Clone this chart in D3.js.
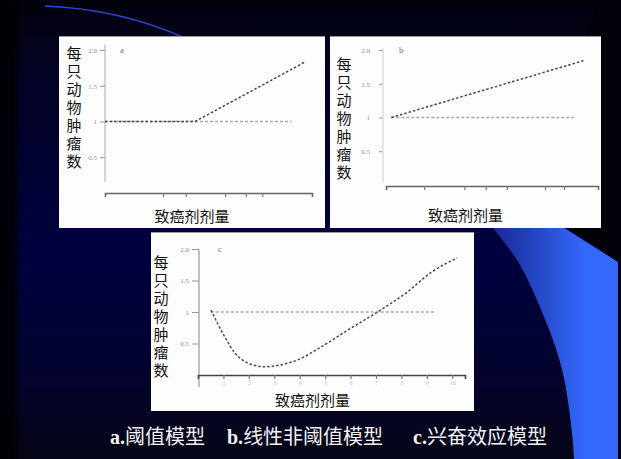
<!DOCTYPE html>
<meta charset="utf-8">
<html>
<head>
<style>
  body { margin: 0; background: #000; }
  svg { display: block; }
</style>
</head>
<body>
<script src="https://d3js.org/d3.v7.min.js"></script>
<div id="slide"></div>
<script>
// tick values / labels shared by the three small charts
var yTickValues = [0.5, 1, 1.5, 2];
var yTickLabels = ["0.5", "1", "1.5", "2.0"];
var yLabelText = "每只动物肿瘤数";
var xLabelText = "致癌剂剂量";
var panelLetters = ["a", "b", "c"];
var captionLetters = ["a.", "b.", "c."];
var captionNames = ["阈值模型", "线性非阈值模型", "兴奋效应模型"];

// a. threshold model
var controlAX = [0, 9.0];
var thresholdX = [0, 4.35, 9.65];
var thresholdY = [1, 1, 1.83];
var xTicksA = [2.8, 3.9, 5.8, 6.8, 7.6];

// b. linear no-threshold model
var controlBX = [0.25, 8.9];
var linearX = [0.25, 9.4];
var linearY = [1, 1.85];
var xTicksB = [1.8, 3.7, 4.7, 5.7, 7.5, 8.4];

// c. hormesis model
var controlCX = [0.5, 9.35];
var hormesisX = [0.51, 1.06, 1.45, 1.96, 2.63, 3.25, 3.92, 4.82, 5.88, 7.06, 8.24, 9.14, 10.2];
var hormesisY = [1.03, 0.60, 0.35, 0.19, 0.13, 0.16, 0.24, 0.44, 0.71, 1.0, 1.32, 1.62, 1.86];
var xTicksC = [1, 2, 3, 4, 5, 6, 7, 8, 9, 10];
var xTickLabelsC = ["1", "2", "3", "4", "5", "6", "7", "8", "9", "10"];

var W = 621, H = 459;
var svg = d3.select("#slide").append("svg").attr("width", W).attr("height", H);
var defs = svg.append("defs");

// ---- slide background ----
var bgV = defs.append("linearGradient").attr("id", "bgV").attr("x1", 0).attr("y1", 0).attr("x2", 0).attr("y2", 1);
bgV.append("stop").attr("offset", "0%").attr("stop-color", "#02020c");
bgV.append("stop").attr("offset", "12%").attr("stop-color", "#030320");
bgV.append("stop").attr("offset", "55%").attr("stop-color", "#000040");
bgV.append("stop").attr("offset", "85%").attr("stop-color", "#03032a");
bgV.append("stop").attr("offset", "100%").attr("stop-color", "#050515");
svg.append("rect").attr("width", W).attr("height", H).attr("fill", "url(#bgV)");

var bgL = defs.append("linearGradient").attr("id", "bgL").attr("x1", 0).attr("y1", 0).attr("x2", 1).attr("y2", 0);
bgL.append("stop").attr("offset", "0%").attr("stop-color", "#000005").attr("stop-opacity", 1);
bgL.append("stop").attr("offset", "60%").attr("stop-color", "#000005").attr("stop-opacity", 0.9);
bgL.append("stop").attr("offset", "100%").attr("stop-color", "#000005").attr("stop-opacity", 0);
svg.append("rect").attr("width", 22).attr("height", H).attr("fill", "url(#bgL)");

// dark right edge
svg.append("rect").attr("x", 603).attr("width", 18).attr("height", H).attr("fill", "#02020a");
svg.append("path").attr("d", "M520,200 L621,262 L621,0 L600,0 Z").attr("fill", "#02020a");

// blue swoosh on the right
var blueG = defs.append("linearGradient").attr("id", "blueG").attr("gradientUnits", "userSpaceOnUse")
  .attr("x1", 485).attr("y1", 0).attr("x2", 585).attr("y2", 0);
blueG.append("stop").attr("offset", "0%").attr("stop-color", "#16248a");
blueG.append("stop").attr("offset", "100%").attr("stop-color", "#3468fc");
var swooshEdge = [[475, 200], [493, 228], [517, 260], [537, 300], [553, 340], [565, 383], [572, 433], [574, 459]];
var edgePath = d3.line().curve(d3.curveNatural)(swooshEdge);
svg.append("path")
  .attr("d", edgePath + " L618,459 L618,262 L520,200 Z")
  .attr("fill", "url(#blueG)");

// thin blue arc near the top
svg.append("path").attr("d", "M45,6 Q120,9 185,38")
  .attr("fill", "none").attr("stroke", "#2a48e0").attr("stroke-width", 1.3);

// ---- panels ----
var panels = [
  { box: [59, 36, 266, 192], xr: [105, 312], yr: [193, 50], axisX: 105, axisY: [45, 182], xAxisY: 193,
    tickSize: 5, tickPad: 3, letterX: 120, labelX: 74, labelY0: 53, capY: 216,
    xTicks: xTicksA, xTickLabels: null, domX: [0, 10],
    control: controlAX, curveX: thresholdX, curveY: thresholdY, curveType: d3.curveLinear,
    yAxisColor: "#b8b8b8", xAxisColor: "#666" },
  { box: [330, 36, 271, 192], xr: [386, 598], yr: [185, 50], axisX: 383, axisY: [48, 182], xAxisY: 186,
    tickSize: 4, tickPad: 9, letterX: 399, labelX: 344, labelY0: 64, capY: 215,
    xTicks: xTicksB, xTickLabels: null, domX: [0, 10],
    control: controlBX, curveX: linearX, curveY: linearY, curveType: d3.curveLinear,
    yAxisColor: "#d8d8d8", xAxisColor: "#666" },
  { box: [151, 232, 323, 179], xr: [198, 465], yr: [375, 249], axisX: 199, axisY: [250, 387], xAxisY: 375,
    tickSize: 7, tickPad: 3, letterX: 218, labelX: 161, labelY0: 262, capY: 400,
    xTicks: xTicksC, xTickLabels: xTickLabelsC, domX: [0, 10.5],
    control: controlCX, curveX: hormesisX, curveY: hormesisY, curveType: d3.curveMonotoneX,
    yAxisColor: "#999", xAxisColor: "#444" }
];

panels.forEach(function(p, i) {
  var g = svg.append("g");
  g.append("rect").attr("x", p.box[0]).attr("y", p.box[1]).attr("width", p.box[2]).attr("height", p.box[3])
    .attr("fill", "#fdfdfd");
  g.append("line").attr("x1", p.box[0]).attr("x2", p.box[0] + p.box[2]).attr("y1", p.box[1] + 0.5).attr("y2", p.box[1] + 0.5)
    .attr("stroke", "#9a9a9a").attr("stroke-width", 1);

  var x = d3.scaleLinear().domain(p.domX).range(p.xr);
  var y = d3.scaleLinear().domain([0, 2]).range(p.yr);

  // y axis
  var ya = g.append("g").attr("transform", "translate(" + p.axisX + ",0)")
    .call(d3.axisLeft(y).tickValues(yTickValues).tickSize(p.tickSize).tickPadding(p.tickPad)
      .tickFormat(function(d, k) { return yTickLabels[k]; }));
  ya.select(".domain").remove();
  ya.selectAll(".tick line").attr("stroke", "#999");
  ya.selectAll(".tick text").attr("fill", "#909090").style("font-size", "7px").style("font-family", "Liberation Serif, serif");
  g.append("line").attr("x1", p.axisX).attr("x2", p.axisX).attr("y1", p.axisY[0]).attr("y2", p.axisY[1])
    .attr("stroke", p.yAxisColor).attr("stroke-width", 1.2);
  g.append("text").attr("x", p.letterX).attr("y", y(2) + 3).text(panelLetters[i])
    .attr("fill", "#777").style("font-size", "9px").style("font-family", "Liberation Serif, serif");

  // x axis
  var xa = g.append("g").attr("transform", "translate(0," + p.xAxisY + ")")
    .call(d3.axisBottom(x).tickValues(p.xTicks).tickSizeOuter(0).tickSize(4).tickPadding(2)
      .tickFormat(function(d, k) { return p.xTickLabels ? p.xTickLabels[k] : ""; }));
  xa.select(".domain").attr("stroke", p.xAxisColor).attr("stroke-width", 1.6);
  xa.selectAll(".tick line").attr("stroke", "#777").attr("stroke-width", 1.2);
  xa.selectAll(".tick text").attr("fill", "#c4c4c4").style("font-size", "6px").style("font-family", "Liberation Serif, serif");

  // control level (dashed)
  g.append("path")
    .attr("d", d3.line()([[x(p.control[0]), y(1)], [x(p.control[1]), y(1)]]))
    .attr("fill", "none").attr("stroke", "#a8a8a8").attr("stroke-width", 1.4).attr("stroke-dasharray", "3,2");

  // dose-response curve
  var pts = p.curveX.map(function(v, k) { return [v, p.curveY[k]]; });
  g.append("path").datum(pts)
    .attr("d", d3.line().curve(p.curveType).x(function(d) { return x(d[0]); }).y(function(d) { return y(d[1]); }))
    .attr("fill", "none").attr("stroke", "#4a4a4a").attr("stroke-width", 1.5).attr("stroke-dasharray", "2.5,2");

  // vertical y label (vertical writing mode, single text)
  g.append("text")
    .attr("x", p.labelX).attr("y", p.labelY0 - 7.5)
    .style("writing-mode", "vertical-rl")
    .style("letter-spacing", "3.1px")
    .attr("fill", "#111").style("font-size", "15px").style("font-family", "'Noto Sans CJK SC', sans-serif")
    .text(yLabelText);

  // x label
  g.append("text").attr("x", p.box[0] + p.box[2] / 2).attr("y", p.capY + 5.5)
    .attr("text-anchor", "middle")
    .attr("fill", "#111").style("font-size", "15px").style("font-family", "'Noto Sans CJK SC', sans-serif")
    .text(xLabelText);
});

// ---- caption ----
var capX = [110, 227, 413];
captionLetters.forEach(function(l, i) {
  var t = svg.append("text").attr("x", capX[i]).attr("y", 444).attr("fill", "#f2f2f2").style("font-size", "20px");
  t.append("tspan").text(l).style("font-family", "'Liberation Serif', serif").style("font-weight", "bold");
  t.append("tspan").text(captionNames[i]).style("font-family", "'Noto Sans CJK SC', sans-serif");
});
</script>
</body>
</html>
